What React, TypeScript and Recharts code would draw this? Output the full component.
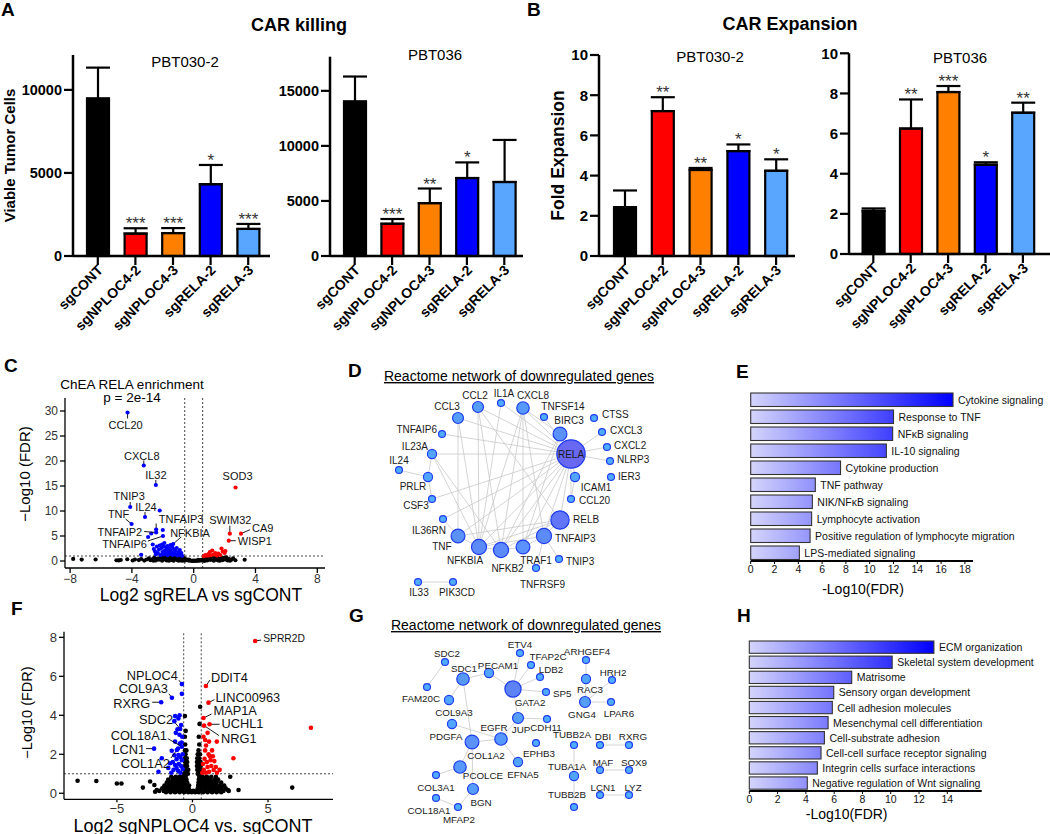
import React from 'react'
import {
  BarChart,
  Bar,
  XAxis,
  YAxis,
  ErrorBar,
  ScatterChart,
  Scatter,
  ReferenceLine,
} from 'recharts'

const FONT = '"Liberation Sans", Arial, Helvetica, sans-serif'
const BLUE = '#0000ff'
const RED = '#ff0000'

// ---------- A / B: CAR killing and CAR expansion ----------
const groups = ['sgCONT', 'sgNPLOC4-2', 'sgNPLOC4-3', 'sgRELA-2', 'sgRELA-3']
const groupColors = ['#000000', '#ff0000', '#ff8000', '#0000ff', '#58a6ff']

const killing030 = [9480, 1350, 1380, 4320, 1630]
const killing030Err = [1860, 320, 300, 1160, 300]
const killing030Sig = ['', '***', '***', '*', '***']

const killing036 = [14030, 2930, 4800, 7080, 6720]
const killing036Err = [2270, 430, 1330, 1420, 3820]
const killing036Sig = ['', '***', '**', '*', '']

const expansion030 = [2.43, 7.21, 4.28, 5.22, 4.24]
const expansion030Err = [0.83, 0.69, 0.1, 0.33, 0.57]
const expansion030Sig = ['', '**', '**', '*', '*']

const expansion036 = [2.15, 6.25, 8.07, 4.45, 7.04]
const expansion036Err = [0.12, 1.45, 0.3, 0.12, 0.5]
const expansion036Sig = ['', '**', '***', '*', '**']

// ---------- C: volcano sgRELA vs sgCONT ----------
const cBlack: [number, number][] = [
  [-7.8, 0.42], [-7.25, 0.28], [-6.35, 0.3], [-5.0, 0.15], [-4.85, 0.12], [-4.72, 0.2], [-4.3, 0.35],
  [-3.95, 0.1], [-3.8, 0.3], [-3.55, 0.18], [-3.4, 0.4], [-3.2, 0.08], [-3.05, 0.3], [-2.9, 0.55],
  [-2.8, 0.15], [-2.65, 0.38], [-2.55, 0.7], [-2.45, 0.1], [-2.35, 0.45], [-2.25, 0.25], [-2.15, 0.75],
  [-2.05, 0.05], [-1.98, 0.5], [-1.9, 0.3], [-1.82, 0.85], [-1.75, 0.12], [-1.68, 0.6], [-1.6, 0.35],
  [-1.52, 0.8], [-1.45, 0.2], [-1.38, 0.55], [-1.3, 0.05], [-1.25, 0.7], [-1.18, 0.35], [-1.1, 0.85],
  [-1.05, 0.15], [-0.98, 0.5], [-0.92, 0.3], [-0.85, 0.7], [-0.8, 0.1], [-0.74, 0.45], [-0.68, 0.25],
  [-0.62, 0.6], [-0.55, 0.12], [-0.48, 0.35], [-0.4, 0.2], [-0.33, 0.08], [-0.25, 0.15], [-0.18, 0.05],
  [-0.1, 0.02], [-0.03, 0.06], [0.05, 0.03], [0.12, 0.08], [0.2, 0.04], [0.28, 0.12], [0.35, 0.06],
  [0.42, 0.18], [0.5, 0.1], [0.56, 0.3], [0.62, 0.15], [0.68, 0.5], [0.75, 0.25], [0.82, 0.7],
  [0.88, 0.1], [0.95, 0.4], [1.02, 0.6], [1.08, 0.2], [1.15, 0.8], [1.22, 0.35], [1.3, 0.05],
  [1.36, 0.55], [1.44, 0.25], [1.5, 0.75], [1.58, 0.12], [1.65, 0.45], [1.72, 0.3], [1.8, 0.65],
  [1.88, 0.18], [1.96, 0.5], [2.05, 0.3], [2.12, 0.75], [2.2, 0.1], [2.3, 0.4], [2.42, 0.22],
  [2.55, 0.55], [2.7, 0.15], [3.3, 0.25],
  [-1.6, 0.05], [-1.2, 0.5], [-0.7, 0.05], [-0.3, 0.3], [0.3, 0.25], [0.7, 0.02], [1.25, 0.6], [1.7, 0.05],
  [2.0, 0.7], [2.35, 0.05], [-2.6, 0.05], [-2.0, 0.65], [-1.42, 0.65], [-0.95, 0.05],
]
const cBlue: [number, number][] = [
  [-3.4, 1.25], [-2.95, 4.8], [-2.75, 5.5], [-2.0, 6.2], [-2.2, 10.1], [-2.65, 3.3], [-2.58, 2.4],
  [-2.5, 1.9], [-2.45, 1.3], [-2.38, 2.9], [-2.32, 1.6], [-2.25, 2.3], [-2.2, 3.1], [-2.15, 1.2],
  [-2.08, 2.6], [-2.02, 1.8], [-1.96, 1.3], [-1.92, 2.9], [-1.86, 2.1], [-1.8, 1.5], [-1.75, 2.6],
  [-1.7, 1.15], [-1.64, 1.9], [-1.6, 2.5], [-1.55, 1.4], [-1.5, 2.2], [-1.44, 1.7], [-1.4, 2.9],
  [-1.35, 1.2], [-1.3, 2.4], [-1.26, 1.6], [-1.2, 2.0], [-1.15, 1.3], [-1.1, 2.6], [-1.05, 1.1],
  [-1.0, 1.8], [-0.95, 1.4], [-0.9, 2.2], [-0.85, 1.15], [-0.8, 1.6], [-0.75, 1.05], [-1.7, 3.0],
  [-2.05, 3.3], [-1.5, 3.2], [-1.9, 3.6],
]
const cRed: [number, number][] = [
  [0.66, 0.95], [0.75, 1.2], [0.85, 1.05], [0.95, 1.4], [1.05, 1.8], [1.12, 1.15], [1.2, 2.1],
  [1.3, 1.3], [1.4, 1.6], [1.5, 1.1], [1.6, 1.5], [1.72, 1.2], [1.8, 2.5], [1.88, 1.9], [2.0, 1.6],
  [2.05, 2.0], [1.0, 1.1],
]
const cGenes = ['CCL20', 'CXCL8', 'IL32', 'TNIP3', 'IL24', 'TNF', 'TNFAIP3', 'TNFAIP2', 'TNFAIP6', 'NFKBIA', 'SOD3', 'SWIM32', 'CA9', 'WISP1']
const cGeneFC = [-4.28, -3.23, -2.45, -4.11, -3.15, -4.02, -2.43, -2.43, -1.99, -1.33, 2.71, 2.34, 3.06, 2.27]
const cGeneFDR = [29.7, 19.1, 15.2, 10.8, 8.8, 7.4, 6.3, 5.7, 5.0, 3.4, 14.7, 5.46, 5.46, 4.06]

// ---------- F: volcano sgNPLOC4 vs sgCONT ----------
const fBlack: [number, number][] = [
  [-2.2, 0.12], [-1.9, 0.12], [-1.6, 0.12], [-1.3, 0.12], [-1.0, 0.12], [-0.7, 0.12], [-0.4, 0.12], [-0.15, 0.12],
  [0.05, 0.12], [0.3, 0.12], [0.55, 0.12], [0.85, 0.12], [1.15, 0.12], [1.45, 0.12], [1.75, 0.12], [2.05, 0.12], [2.4, 0.12],
  [-2.0, 0.25], [-1.7, 0.25], [-1.45, 0.25], [-1.2, 0.25], [-0.95, 0.25], [-0.7, 0.25], [-0.45, 0.25], [-0.25, 0.25],
  [0.35, 0.25], [0.55, 0.25], [0.8, 0.25], [1.05, 0.25], [1.3, 0.25], [1.6, 0.25], [1.9, 0.25], [2.2, 0.25],
  [-1.85, 0.4], [-1.6, 0.4], [-1.35, 0.4], [-1.1, 0.4], [-0.85, 0.4], [-0.62, 0.4], [-0.4, 0.4], [-0.22, 0.4],
  [0.38, 0.4], [0.6, 0.4], [0.82, 0.4], [1.05, 0.4], [1.3, 0.4], [1.55, 0.4], [1.8, 0.4], [2.1, 0.4],
  [-1.7, 0.55], [-1.45, 0.55], [-1.2, 0.55], [-1.0, 0.55], [-0.78, 0.55], [-0.55, 0.55], [-0.35, 0.55],
  [0.4, 0.55], [0.62, 0.55], [0.85, 0.55], [1.1, 0.55], [1.35, 0.55], [1.6, 0.55], [1.9, 0.55],
  [-1.6, 0.7], [-1.3, 0.7], [-1.05, 0.7], [-0.8, 0.7], [-0.6, 0.7], [-0.4, 0.7],
  [0.42, 0.7], [0.65, 0.7], [0.9, 0.7], [1.15, 0.7], [1.45, 0.7], [1.7, 0.7],
  [-1.4, 0.85], [-1.1, 0.85], [-0.85, 0.85], [-0.65, 0.85], [-0.45, 0.85], [0.45, 0.85], [0.68, 0.85], [0.95, 0.85], [1.25, 0.85], [1.55, 0.85],
  [-1.75, 0.05], [-1.45, 0.05], [-1.15, 0.05], [-0.85, 0.05], [-0.55, 0.05], [-0.28, 0.05], [-0.05, 0.05],
  [0.18, 0.05], [0.42, 0.05], [0.7, 0.05], [1.0, 0.05], [1.3, 0.05], [1.6, 0.05], [1.9, 0.05],
  [-1.85, 0.32], [-1.55, 0.32], [-1.3, 0.32], [-1.05, 0.32], [-0.8, 0.32], [-0.55, 0.32], [-0.35, 0.32],
  [0.45, 0.32], [0.68, 0.32], [0.92, 0.32], [1.18, 0.32], [1.45, 0.32], [1.72, 0.32],
  [-1.5, 0.48], [-1.25, 0.48], [-0.98, 0.48], [-0.72, 0.48], [-0.5, 0.48], [0.5, 0.48], [0.72, 0.48], [0.95, 0.48], [1.2, 0.48], [1.45, 0.48],
  [-1.35, 0.62], [-1.12, 0.62], [-0.9, 0.62], [-0.7, 0.62], [-0.48, 0.62], [0.52, 0.62], [0.75, 0.62], [1.0, 0.62], [1.25, 0.62],
  [-1.2, 0.78], [-0.95, 0.78], [-0.72, 0.78], [-0.52, 0.78], [0.55, 0.78], [0.8, 0.78], [1.05, 0.78],
  [-0.55, 1.0], [-0.42, 1.0], [-0.3, 1.0], [0.35, 1.0], [0.48, 1.0], [0.58, 1.0],
  [-0.52, 1.2], [-0.38, 1.2], [-0.28, 1.2], [0.32, 1.2], [0.45, 1.2], [0.56, 1.2],
  [-0.5, 1.4], [-0.36, 1.4], [0.3, 1.4], [0.44, 1.4], [0.55, 1.4],
  [-0.48, 1.6], [-0.35, 1.6], [0.3, 1.6], [0.42, 1.6], [0.54, 1.6],
  [-0.5, 1.8], [-0.38, 1.8], [0.32, 1.8], [0.45, 1.8],
  [-0.46, 2.0], [0.35, 2.0], [0.5, 2.0], [-0.5, 2.2], [-0.4, 2.2], [0.4, 2.2],
  [-0.48, 2.5], [0.45, 2.5], [-0.5, 2.9], [0.42, 2.9], [-0.45, 3.2], [0.47, 3.56], [-0.5, 3.96], [0.51, 4.44],
  [-7.6, 0.64], [-6.36, 0.63], [-5.0, 0.5], [-4.7, 0.5], [-3.28, 0.29], [-2.52, 0.42], [-2.47, 0.08],
  [-2.8, 0.6], [-2.36, 0.17], [3.05, 0.17], [6.6, 0.29], [2.34, 0.17], [2.5, 0.85], [1.95, 0.34],
]
const fBlue: [number, number][] = [
  [-1.15, 3.96], [-0.93, 3.84], [-0.99, 3.28], [-0.86, 3.0], [-1.1, 3.1], [-0.75, 3.5], [-0.7, 5.1],
  [-1.15, 2.65], [-0.84, 2.55], [-0.95, 2.3], [-0.72, 2.6], [-1.37, 2.18], [-1.2, 1.95], [-0.93, 1.96],
  [-0.8, 1.85], [-1.05, 1.75], [-0.7, 1.7], [-1.3, 1.6], [-1.48, 1.54], [-1.15, 1.45], [-0.9, 1.5],
  [-0.75, 1.4], [-1.05, 1.3], [-1.25, 1.2], [-0.65, 1.25], [-0.95, 1.15], [-0.8, 1.05], [-2.25, 1.1],
  [-2.03, 1.8], [-1.6, 1.3], [-1.4, 1.05], [-0.65, 2.0], [-0.68, 2.9], [-0.85, 4.0], [-1.2, 3.7],
]
const fRed: [number, number][] = [
  [0.84, 2.73], [1.1, 2.65], [1.61, 2.65], [0.84, 2.2], [1.07, 2.0], [1.3, 2.2], [0.8, 1.77], [0.95, 1.6],
  [1.2, 1.7], [1.45, 1.65], [1.0, 1.35], [1.25, 1.4], [1.4, 1.19], [0.75, 1.2], [0.7, 1.5], [1.62, 1.05],
  [1.1, 1.1], [0.9, 1.05], [2.71, 1.8], [0.73, 2.9], [1.0, 3.1], [7.84, 3.36], [1.35, 1.9], [0.9, 2.45],
  [1.55, 1.35], [0.65, 1.05], [1.8, 1.2], [1.15, 1.9],
]
const fGenes = ['SPRR2D', 'NPLOC4', 'COL9A3', 'RXRG', 'DDIT4', 'LINC00963', 'MAP1A', 'UCHL1', 'NRG1', 'SDC2', 'COL18A1', 'LCN1', 'COL1A2']
const fGeneFC = [4.15, -0.7, -1.36, -2.07, 0.89, 1.06, 0.73, 1.13, 0.77, -0.81, -0.7, -2.54, -1.03]
const fGeneFDR = [7.81, 5.6, 4.9, 4.67, 5.5, 4.65, 3.86, 3.54, 3.47, 3.3, 2.39, 2.29, 2.22]

// ---------- D: network of downregulated genes (sgRELA) ----------
const dNodes = ['CCL2', 'IL1A', 'CXCL8', 'CCL3', 'TNFSF14', 'CTSS', 'BIRC3', 'CXCL3', 'TNFAIP6', 'RELA', 'CXCL2', 'IL23A', 'NLRP3', 'IL24', 'IER3', 'ICAM1', 'PRLR', 'CCL20', 'CSF3', 'RELB', 'IL36RN', 'TNFAIP3', 'TNF', 'NFKBIA', 'NFKB2', 'TRAF1', 'TNIP3', 'TNFRSF9', 'IL33', 'PIK3CD']
const dNodeX = [98, 121, 143, 78, 164, 214, 180, 222, 62, 191, 227, 52, 230, 19, 231, 195, 48, 191, 52, 180, 63, 164, 78, 99, 121, 143, 179, 156, 38, 73]
const dNodeY = [22, 18, 23, 33, 32, 33, 49, 47, 49, 69, 62, 69, 76, 85, 92, 92, 92, 114, 114, 135, 134, 151, 151, 162, 165, 162, 174, 183, 197, 197]
const dDegree = [3, 1, 4, 3, 1, 1, 5, 1, 1, 22, 1, 2, 1, 1, 1, 2, 2, 1, 1, 9, 1, 6, 5, 6, 6, 5, 1, 1, 1, 1]
const dEdges: [string, string][] = [
  ['RELA', 'IL23A'], ['RELA', 'CSF3'], ['RELA', 'CCL2'], ['RELA', 'CCL3'], ['RELA', 'CXCL8'], ['RELA', 'BIRC3'],
  ['RELA', 'CXCL3'], ['RELA', 'CXCL2'], ['RELA', 'NLRP3'], ['RELA', 'ICAM1'], ['RELA', 'CCL20'], ['RELA', 'RELB'],
  ['RELA', 'TNFAIP3'], ['RELA', 'TRAF1'], ['RELA', 'NFKB2'], ['RELA', 'NFKBIA'], ['RELA', 'TNF'], ['RELA', 'IL36RN'],
  ['RELA', 'TNFSF14'], ['RELA', 'IL1A'], ['RELA', 'TNFAIP6'], ['NFKBIA', 'CCL2'], ['NFKBIA', 'CXCL8'], ['NFKBIA', 'IL1A'],
  ['NFKBIA', 'IL23A'], ['NFKBIA', 'CCL3'], ['NFKB2', 'CXCL8'], ['NFKB2', 'CCL2'], ['NFKB2', 'BIRC3'], ['TRAF1', 'CXCL8'],
  ['TRAF1', 'BIRC3'], ['TNF', 'CCL3'], ['TNF', 'IL36RN'], ['TNF', 'NFKBIA'], ['NFKBIA', 'NFKB2'], ['NFKB2', 'TRAF1'],
  ['TRAF1', 'TNFAIP3'], ['TNFAIP3', 'RELB'], ['TNFAIP3', 'TNIP3'], ['TNFAIP3', 'TNFRSF9'], ['TNFAIP3', 'NFKBIA'],
  ['RELB', 'NFKB2'], ['RELB', 'NFKBIA'], ['ICAM1', 'CCL20'], ['IL24', 'PRLR'], ['PRLR', 'IL23A'], ['CSF3', 'PRLR'],
  ['IL33', 'PIK3CD'], ['BIRC3', 'CXCL8'], ['RELB', 'CCL2'], ['TNFAIP3', 'CXCL8'], ['TNF', 'RELB'], ['IL23A', 'NFKB2'],
]

// ---------- G: network of downregulated genes (sgNPLOC4) ----------
const gNodes = ['ETV4', 'SDC2', 'TFAP2C', 'ARHGEF4', 'PECAM1', 'SDC1', 'LDB2', 'RAC3', 'HRH2', 'FAM20C', 'GATA2', 'SP5', 'COL9A3', 'GNG4', 'LPAR6', 'JUP', 'CDH11', 'PDGFA', 'EGFR', 'COL1A2', 'TUBB2A', 'DBI', 'RXRG', 'EPHB3', 'EFNA5', 'PCOLCE', 'TUBA1A', 'MAF', 'SOX9', 'COL3A1', 'BGN', 'LCN1', 'LYZ', 'COL18A1', 'MFAP2', 'TUBB2B']
const gNodeX = [140, 65, 151, 206, 109, 83, 160, 206, 232, 47, 133, 166, 69, 205, 231, 138, 167, 72, 121, 92, 194, 220, 249, 156, 138, 80, 194, 220, 249, 56, 93, 220, 249, 56, 78, 194]
const gNodeY = [13, 22, 25, 20, 33, 39, 37, 39, 40, 47, 49, 52, 60, 62, 62, 78, 79, 84, 99, 102, 105, 105, 105, 103, 122, 127, 136, 130, 130, 135, 149, 155, 155, 158, 167, 167]
const gDegree = [1, 1, 1, 1, 2, 4, 1, 2, 1, 1, 7, 1, 2, 3, 1, 3, 1, 2, 4, 5, 1, 1, 1, 1, 2, 4, 2, 1, 1, 1, 3, 1, 1, 1, 1, 1]
const gEdges: [string, string][] = [
  ['SDC2', 'FAM20C'], ['SDC1', 'COL9A3'], ['SDC1', 'PECAM1'], ['GATA2', 'PECAM1'], ['GATA2', 'ETV4'], ['GATA2', 'TFAP2C'],
  ['GATA2', 'LDB2'], ['GATA2', 'SP5'], ['GATA2', 'JUP'], ['JUP', 'CDH11'], ['JUP', 'EGFR'], ['EGFR', 'PDGFA'],
  ['EGFR', 'COL1A2'], ['EGFR', 'EFNA5'], ['COL1A2', 'SDC1'], ['COL1A2', 'PCOLCE'], ['COL1A2', 'BGN'], ['PCOLCE', 'COL3A1'],
  ['BGN', 'MFAP2'], ['COL18A1', 'MFAP2'], ['ARHGEF4', 'RAC3'], ['RAC3', 'GNG4'], ['GNG4', 'HRH2'], ['GNG4', 'LPAR6'],
  ['TUBB2A', 'TUBA1A'], ['TUBA1A', 'TUBB2B'], ['DBI', 'RXRG'], ['MAF', 'SOX9'], ['LCN1', 'LYZ'],
]

// ---------- E / H: enrichment ----------
const eTerms = ['Cytokine signaling', 'Response to TNF', 'NFκB signaling', 'IL-10 signaling', 'Cytokine production', 'TNF pathway', 'NIK/NFκB signaling', 'Lymphocyte activation', 'Positive regulation of lymphocyte migration', 'LPS-mediated signaling']
const eValues = [17.0, 12.0, 11.93, 11.4, 7.55, 5.43, 5.18, 5.12, 4.99, 4.09]
const eTicks = [0, 2, 4, 6, 8, 10, 12, 14, 16, 18]

const hTerms = ['ECM organization', 'Skeletal system development', 'Matrisome', 'Sensory organ development', 'Cell adhesion molecules', 'Mesenchymal cell differentiation', 'Cell-substrate adhesion', 'Cell-cell surface receptor signaling', 'Integrin cells surface interactions', 'Negative regulation of Wnt signaling']
const hValues = [13.05, 10.1, 7.24, 5.97, 5.87, 5.57, 5.31, 5.07, 4.81, 4.1]
const hTicks = [0, 2, 4, 6, 8, 10, 12, 14]

// label placement (layout only): [dx, dy, anchor, lineDx, lineDy]
type LabelPos = [number, number, 'start' | 'middle' | 'end', number, number]
const cLabelPos: Record<string, LabelPos> = {
  CCL20: [-2, 12, 'middle', 0, 6], CXCL8: [-2, -10, 'middle', 0, -5], IL32: [0, -10, 'middle', 0, -5],
  TNIP3: [-1, -11, 'middle', 0, -5], IL24: [1, -10, 'middle', 0, -5], TNF: [-13, -10, 'middle', -6, -5],
  TNFAIP3: [25, -11, 'middle', 0, -6], TNFAIP2: [-14, -1, 'end', -12, -1], TNFAIP6: [-16, 7.5, 'end', -15, 5],
  NFKBIA: [-3, -11.5, 'start', 8, -7], SOD3: [2, -12, 'middle', 0, 0], SWIM32: [0.5, -14, 'middle', 0, -8],
  CA9: [11, -6, 'start', 9, -4], WISP1: [9, 0, 'start', 7, 0],
}
const fLabelPos: Record<string, LabelPos> = {
  SPRR2D: [8, -2.5, 'start', 6, -1], NPLOC4: [-4, -9, 'end', -3, -4], COL9A3: [-4, -9.5, 'end', -3, -4],
  RXRG: [-11, 1.5, 'end', -9, 0], DDIT4: [5, -9, 'start', 4, -6], LINC00963: [7, -5, 'start', 6, -3],
  MAP1A: [10, -7.5, 'start', 8, -4], UCHL1: [12, -1, 'start', 10, 0], NRG1: [17, 12.5, 'start', 15, 10],
  SDC2: [-7, -9, 'end', -5, -6], COL18A1: [-15, -11.5, 'end', -14, -8], LCN1: [-9, 0.5, 'end', -8, 0],
  COL1A2: [-7, 14, 'end', -6, 8],
}
const dLabelPos: Record<string, LabelPos> = {
  CCL2: [-3, -12, 'middle', 0, 0], IL1A: [3, -10, 'middle', 0, 0], CXCL8: [10, -13, 'middle', 0, 0],
  CCL3: [-11, -12, 'middle', 0, 0], TNFSF14: [19, -11, 'middle', 0, 0], CTSS: [8, -4, 'start', 0, 0],
  BIRC3: [9, -14, 'middle', 0, 0], CXCL3: [8, -2, 'start', 0, 0], TNFAIP6: [-5, -5, 'end', 0, 0],
  RELA: [0, 0, 'middle', 0, 0], CXCL2: [7, -2, 'start', 0, 0], IL23A: [-4, -8, 'end', 0, 0],
  NLRP3: [7, -2, 'start', 0, 0], IL24: [0, -10, 'middle', 0, 0], IER3: [7, -1, 'start', 0, 0],
  ICAM1: [21, 10, 'middle', 0, 0], PRLR: [-15, 9, 'middle', 0, 0], CCL20: [8, 1, 'start', 0, 0],
  CSF3: [-16, 6, 'middle', 0, 0], RELB: [13, -1, 'start', 0, 0], IL36RN: [-14, 11, 'middle', 0, 0],
  TNFAIP3: [11, 2, 'start', 0, 0], TNF: [-16, 10, 'middle', 0, 0], NFKBIA: [-14, 13, 'middle', 0, 0],
  NFKB2: [6.5, 18, 'middle', 0, 0], TRAF1: [13, 13, 'middle', 0, 0], TNIP3: [7, 2, 'start', 0, 0],
  TNFRSF9: [6.5, 16, 'middle', 0, 0], IL33: [1, 10, 'middle', 0, 0], PIK3CD: [4, 10, 'middle', 0, 0],
}
const gLabelPos: Record<string, LabelPos> = {
  ETV4: [0, -9, 'middle', 0, 0], SDC2: [2, -9, 'middle', 0, 0], TFAP2C: [17, -9, 'middle', 0, 0],
  ARHGEF4: [1, -9, 'middle', 0, 0], PECAM1: [9, -8, 'middle', 0, 0], SDC1: [1, -11, 'middle', 0, 0],
  LDB2: [11, -8, 'middle', 0, 0], RAC3: [4, 10, 'middle', 0, 0], HRH2: [1, -8, 'middle', 0, 0],
  FAM20C: [-6, 11, 'middle', 0, 0], GATA2: [17, 13, 'middle', 0, 0], SP5: [7, 1, 'start', 0, 0],
  COL9A3: [5, 12, 'middle', 0, 0], GNG4: [-3, 12, 'middle', 0, 0], LPAR6: [8, 11, 'middle', 0, 0],
  JUP: [3, 11, 'middle', 0, 0], CDH11: [-1, 8, 'middle', 0, 0], PDGFA: [-6, 12, 'middle', 0, 0],
  EGFR: [-7, -12, 'middle', 0, 0], COL1A2: [14, 13, 'middle', 0, 0], TUBB2A: [-2, -11, 'middle', 0, 0],
  DBI: [3, -9, 'middle', 0, 0], RXRG: [4, -9, 'middle', 0, 0], EPHB3: [3, 10, 'middle', 0, 0],
  EFNA5: [5, 12, 'middle', 0, 0], PCOLCE: [23, 8, 'middle', 0, 0], TUBA1A: [-7, -10, 'middle', 0, 0],
  MAF: [3, -8, 'middle', 0, 0], SOX9: [5, -8, 'middle', 0, 0], COL3A1: [0, 12, 'middle', 0, 0],
  BGN: [8, 13, 'middle', 0, 0], LCN1: [3, -8, 'middle', 0, 0], LYZ: [4, -8, 'middle', 0, 0],
  COL18A1: [-7, 12, 'middle', 0, 0], MFAP2: [1, 12, 'middle', 0, 0], TUBB2B: [-7, -13, 'middle', 0, 0],
}

const toPts = (pts: [number, number][]) => pts.map(([x, y]) => ({ x, y }))

const rotatedLabel = (text: string, x: number, size: number, bold: boolean, cyAbs?: number) => (props: any) => {
  const vb = props.viewBox || {}
  const cy = cyAbs != null ? cyAbs : vb.y + vb.height / 2
  return (
    <text
      x={x}
      y={cy}
      transform={`rotate(-90 ${x} ${cy})`}
      textAnchor="middle"
      dominantBaseline="central"
      fontSize={size}
      fontWeight={bold ? 700 : 400}
      fontFamily={FONT}
      fill="#000"
    >
      {text}
    </text>
  )
}

const flatLabel = (text: string, x: number, y: number, size: number) => () => (
  <text x={x} y={y} textAnchor="middle" dominantBaseline="central" fontSize={size} fontFamily={FONT} fill="#000">
    {text}
  </text>
)

const RotTick = (t: any) => {
  const ax = t.x + 6
  const ay = t.y + 4
  return (
    <text
      x={ax}
      y={ay}
      transform={`rotate(-45 ${ax} ${ay})`}
      textAnchor="end"
      fontSize={14}
      fontWeight={700}
      fontFamily={FONT}
      fill="#000"
    >
      {t.payload.value}
    </text>
  )
}

const groupBarShape = (p: any) => {
  const d = p.payload
  const errPx = d.v > 0 ? (d.err[1] * p.height) / d.v : 0
  return (
    <g>
      <rect x={p.x} y={p.y} width={p.width} height={p.height} fill={groupColors[d.i]} stroke="#000" strokeWidth={2.2} />
      {d.sig ? (
        <text x={p.x + p.width / 2} y={p.y - errPx + 1} textAnchor="middle" fontSize={17} fill="#333" fontFamily={FONT}>
          {d.sig}
        </text>
      ) : null}
    </g>
  )
}

function GroupBars(p: any) {
  const rows = groups.map((g, i) => ({ name: g, i, v: p.values[i], err: [0, p.errors[i]], sig: p.stars[i] }))
  return (
    <div style={{ position: 'absolute', left: p.left, top: 0 }}>
      <BarChart
        width={p.width}
        height={340}
        data={rows}
        margin={{ top: p.plotTop, right: p.width - p.plotRight, left: 0, bottom: 0 }}
      >
        <XAxis
          dataKey="name"
          interval={0}
          height={340 - p.plotBottom}
          padding={{ left: p.padLeft, right: p.padRight }}
          axisLine={{ stroke: '#000', strokeWidth: 2.5 }}
          tickLine={{ stroke: '#000', strokeWidth: 2.2 }}
          tickSize={9}
          tick={<RotTick />}
        />
        <YAxis
          width={p.plotLeft}
          domain={p.domain}
          ticks={p.ticks}
          axisLine={{ stroke: '#000', strokeWidth: 2.5 }}
          tickLine={{ stroke: '#000', strokeWidth: 2.2 }}
          tickSize={9}
          tick={{ fontSize: p.tickFont, fontWeight: 700, fill: '#000', fontFamily: FONT }}
          label={p.yLabel ? { content: rotatedLabel(p.yLabel, p.yLabelX, p.yLabelSize, true) } : undefined}
        />
        <Bar dataKey="v" barSize={22} shape={groupBarShape} isAnimationActive={false}>
          <ErrorBar dataKey="err" direction="y" width={12} stroke="#000" strokeWidth={2.2} />
        </Bar>
      </BarChart>
    </div>
  )
}

const dotShape = (color: string, r: number) => (p: any) => <circle cx={p.cx} cy={p.cy} r={r} fill={color} />

const labeledShape = (layout: Record<string, LabelPos>, font: number, r: number) => (p: any) => {
  const d = p.payload
  const [tx, ty, anchor, lx, ly] = layout[d.name]
  const size = d.name === 'SPRR2D' ? font - 2.5 : font
  return (
    <g>
      {lx || ly ? <line x1={p.cx} y1={p.cy} x2={p.cx + lx} y2={p.cy + ly} stroke="#000" strokeWidth={0.9} /> : null}
      <circle cx={p.cx} cy={p.cy} r={r} fill={d.x < 0 ? BLUE : RED} />
      <text x={p.cx + tx} y={p.cy + ty} textAnchor={anchor} dominantBaseline="central" fontSize={size} fontFamily={FONT} fill="#111">
        {d.name}
      </text>
    </g>
  )
}

const minusFmt = (v: number) => (v < 0 ? `\u2212${-v}` : `${v}`)

function Volcano(p: any) {
  const genes = p.genes.map((g: string, i: number) => ({ name: g, x: p.fc[i], y: p.fdr[i] }))
  const axisStyle = { stroke: '#000', strokeWidth: 1.3 }
  return (
    <div style={{ position: 'absolute', left: p.left, top: p.top }}>
      <ScatterChart
        width={p.width}
        height={p.height}
        margin={{ top: p.plotTop, right: p.width - p.plotRight, left: 0, bottom: 0 }}
      >
        <XAxis
          type="number"
          dataKey="x"
          domain={p.xDomain}
          ticks={p.xTicks}
          tickFormatter={minusFmt}
          height={p.height - p.plotBottom}
          axisLine={axisStyle}
          tickLine={axisStyle}
          tickSize={p.xTickSize}
          tickMargin={1}
          tick={{ fontSize: p.tickFont, fill: '#333', fontFamily: FONT }}
          label={{ content: flatLabel(p.xLabel, p.xLabelX, p.xLabelY, p.xLabelSize) }}
        />
        <YAxis
          type="number"
          dataKey="y"
          domain={p.yDomain}
          ticks={p.yTicks}
          width={p.plotLeft}
          axisLine={axisStyle}
          tickLine={axisStyle}
          tickSize={5}
          tick={{ fontSize: p.tickFont, fill: '#333', fontFamily: FONT }}
          label={{ content: rotatedLabel('\u2212Log10 (FDR)', p.yLabelX, p.yLabelSize, false, p.yLabelCy) }}
        />
        <ReferenceLine x={-0.58} stroke="#444" strokeDasharray="2 2" strokeWidth={1} />
        <ReferenceLine x={0.58} stroke="#444" strokeDasharray="2 2" strokeWidth={1} />
        <ReferenceLine y={1} stroke="#444" strokeDasharray="2 2" strokeWidth={1} />
        <Scatter data={toPts(p.black)} shape={dotShape('#000', p.dotR)} isAnimationActive={false} />
        <Scatter data={toPts(p.blue)} shape={dotShape(BLUE, p.dotR)} isAnimationActive={false} />
        <Scatter data={toPts(p.red)} shape={dotShape(RED, p.dotR)} isAnimationActive={false} />
        <Scatter data={genes} shape={labeledShape(p.labelPos, p.labelFont, p.dotR)} isAnimationActive={false} />
      </ScatterChart>
    </div>
  )
}

const mix = (a: number[], b: number[], t: number) =>
  `rgb(${a.map((v, i) => Math.round(v + (b[i] - v) * t)).join(',')})`

const nodeShape = (layout: Record<string, LabelPos>, font: number) => (p: any) => {
  const d = p.payload
  const r = Math.sqrt(12 + 9 * (d.deg - 1))
  const t = Math.min(1, (d.deg - 1) / 10)
  const fill = mix([80, 172, 255], [104, 104, 242], t)
  const [tx, ty, anchor] = layout[d.name]
  return (
    <g>
      <circle cx={p.cx} cy={p.cy} r={r} fill={fill} stroke="#1f3cf0" strokeWidth={1.2} />
      <text x={p.cx + tx} y={p.cy + ty} textAnchor={anchor} dominantBaseline="central" fontSize={font} fontFamily={FONT} fill="#1a1a1a">
        {d.name}
      </text>
    </g>
  )
}

function Network(p: any) {
  const nodes = p.names.map((n: string, i: number) => ({ name: n, x: p.xs[i], y: p.ys[i], deg: p.deg[i] }))
  const at = (n: string) => nodes.find((d: any) => d.name === n)
  const padR = 50
  const padB = 16
  return (
    <div style={{ position: 'absolute', left: p.left, top: p.top }}>
      <ScatterChart
        width={p.width + padR}
        height={p.height + padB}
        margin={{ top: 0, right: padR, left: 0, bottom: padB }}
      >
        <XAxis type="number" dataKey="x" domain={[0, p.width]} hide />
        <YAxis type="number" dataKey="y" domain={[0, p.height]} reversed hide />
        {p.edges.map(([a, b]: [string, string], i: number) => {
          const s = at(a)
          const e = at(b)
          return (
            <ReferenceLine
              key={i}
              segment={[{ x: s.x, y: s.y }, { x: e.x, y: e.y }]}
              stroke="#c9c9c9"
              strokeWidth={0.8}
              ifOverflow="visible"
            />
          )
        })}
        <Scatter data={nodes} shape={nodeShape(p.labelPos, p.font)} isAnimationActive={false} />
      </ScatterChart>
    </div>
  )
}

const LIGHT = [212, 212, 251]
const DEEP = [0, 0, 255]

function TermBars(p: any) {
  const rows = p.terms.map((t: string, i: number) => ({ name: t, i, v: p.values[i] }))
  const vmax = Math.max(...p.values)
  const shape = (b: any) => {
    const d = b.payload
    const id = `${p.id}-grad-${d.i}`
    return (
      <g>
        <defs>
          <linearGradient id={id} x1="0" x2="1" y1="0" y2="0">
            <stop offset="0" stopColor={mix(LIGHT, LIGHT, 0)} />
            <stop offset="1" stopColor={mix(LIGHT, DEEP, d.v / vmax)} />
          </linearGradient>
        </defs>
        <rect x={b.x} y={b.y} width={b.width} height={b.height} fill={`url(#${id})`} stroke="#333" strokeWidth={1.1} />
        <text
          x={b.x + b.width + 5}
          y={b.y + b.height / 2}
          dominantBaseline="central"
          fontSize={10.5}
          fontFamily={FONT}
          fill="#111"
        >
          {d.name}
        </text>
      </g>
    )
  }
  return (
    <div style={{ position: 'absolute', left: p.left, top: p.top }}>
      <BarChart
        layout="vertical"
        width={p.width}
        height={p.height}
        data={rows}
        margin={{ top: p.plotTop, right: p.width - p.plotRight, left: p.plotLeft, bottom: 0 }}
      >
        <XAxis
          type="number"
          domain={[0, p.max]}
          ticks={p.ticks}
          height={p.height - p.plotBottom}
          axisLine={{ stroke: '#000', strokeWidth: 2 }}
          tickLine={{ stroke: '#000', strokeWidth: 1 }}
          tickSize={3}
          tick={{ fontSize: 10.5, fill: '#111', fontFamily: FONT }}
          label={{ content: flatLabel('-Log10(FDR)', p.xLabelX, p.xLabelY, 14) }}
        />
        <YAxis type="category" dataKey="name" width={0} tick={false} tickLine={false} axisLine={{ stroke: '#000', strokeWidth: 2 }} />
        <Bar dataKey="v" barSize={p.barSize} shape={shape} isAnimationActive={false} />
      </BarChart>
    </div>
  )
}

const panelLetters: [string, number, number][] = [
  ['A', 1, 16], ['B', 527, 16], ['C', 4, 372], ['D', 348, 377],
  ['E', 736, 378], ['F', 11, 615], ['G', 349, 622], ['H', 737, 622],
]

function Annotations() {
  const t = (x: number, y: number, s: number, w: number, txt: string, extra: any = {}) => (
    <text x={x} y={y} fontSize={s} fontWeight={w} fontFamily={FONT} fill="#000" textAnchor="middle" {...extra}>
      {txt}
    </text>
  )
  return (
    <svg width={1050} height={834} style={{ position: 'absolute', left: 0, top: 0, pointerEvents: 'none' }}>
      {panelLetters.map(([l, x, y]) => (
        <text key={l} x={x} y={y} fontSize={19} fontWeight={700} fontFamily={FONT} fill="#000">
          {l}
        </text>
      ))}
      {t(299, 31, 18, 700, 'CAR killing')}
      {t(790, 30, 18, 700, 'CAR Expansion')}
      {t(185, 67, 15, 400, 'PBT030-2')}
      {t(435, 60, 15, 400, 'PBT036')}
      {t(710, 62, 15, 400, 'PBT030-2')}
      {t(960, 63, 15, 400, 'PBT036')}
      {t(132, 389, 13.5, 400, 'ChEA RELA enrichment')}
      {t(132, 402, 13.5, 400, 'p = 2e-14')}
      {t(519, 381, 14, 400, 'Reactome network of downregulated genes', { style: { textDecoration: 'underline' } })}
      {t(526, 630, 14, 400, 'Reactome network of downregulated genes', { style: { textDecoration: 'underline' } })}
    </svg>
  )
}

export default function App() {
  return (
    <div style={{ position: 'absolute', left: 0, top: 0, width: 1050, height: 834, background: '#fff', overflow: 'hidden' }}>
      <GroupBars
        left={0} width={275} plotLeft={73} plotRight={270} plotTop={55} plotBottom={256} padLeft={6} padRight={3}
        values={killing030} errors={killing030Err} stars={killing030Sig} domain={[0, 12100]} ticks={[0, 5000, 10000]}
        tickFont={14.5} yLabel="Viable Tumor Cells" yLabelX={9} yLabelSize={15}
      />
      <GroupBars
        left={260} width={270} plotLeft={70} plotRight={263} plotTop={56.7} plotBottom={256} padLeft={6} padRight={0}
        values={killing036} errors={killing036Err} stars={killing036Sig} domain={[0, 18100]} ticks={[0, 5000, 10000, 15000]}
        tickFont={14.5}
      />
      <GroupBars
        left={520} width={280} plotLeft={79} plotRight={275} plotTop={55} plotBottom={256} padLeft={7} padRight={0}
        values={expansion030} errors={expansion030Err} stars={expansion030Sig} domain={[0, 10]} ticks={[0, 2, 4, 6, 8, 10]}
        tickFont={15} yLabel="Fold Expansion" yLabelX={37.5} yLabelSize={17.5}
      />
      <GroupBars
        left={780} width={270} plotLeft={69} plotRight={270} plotTop={53.3} plotBottom={254} padLeft={5.6} padRight={8.4}
        values={expansion036} errors={expansion036Err} stars={expansion036Sig} domain={[0, 10]} ticks={[0, 2, 4, 6, 8, 10]}
        tickFont={15}
      />
      <Volcano
        left={0} top={330} width={335} height={282} plotLeft={65} plotRight={325} plotTop={68} plotBottom={238}
        xDomain={[-8.33, 8.5]} yDomain={[-1.4, 32.6]} xTicks={[-8, -4, 0, 4, 8]} yTicks={[0, 5, 10, 15, 20, 25, 30]}
        black={cBlack} blue={cBlue} red={cRed} genes={cGenes} fc={cGeneFC} fdr={cGeneFDR} labelPos={cLabelPos}
        labelFont={11} tickFont={12} dotR={2.1} xTickSize={5}
        xLabel="Log2 sgRELA vs sgCONT" xLabelX={201} xLabelY={265} xLabelSize={17.5}
        yLabelX={24} yLabelCy={144} yLabelSize={15}
      />
      <Network left={380} top={385} width={250} height={210} names={dNodes} xs={dNodeX} ys={dNodeY} deg={dDegree} edges={dEdges} labelPos={dLabelPos} font={10} />
      <TermBars
        id="e" left={710} top={380} width={340} height={226} plotLeft={40.7} plotTop={11} plotBottom={181} plotRight={263}
        max={18.68} ticks={eTicks} terms={eTerms} values={eValues} barSize={13.5} xLabelX={153} xLabelY={209}
      />
      <Volcano
        left={0} top={625} width={340} height={209} plotLeft={64} plotRight={333} plotTop={6.7} plotBottom={174.3}
        xDomain={[-8.5, 9.3]} yDomain={[-0.31, 8.29]} xTicks={[-5, 0, 5]} yTicks={[0, 2, 4, 6, 8]}
        black={fBlack} blue={fBlue} red={fRed} genes={fGenes} fc={fGeneFC} fdr={fGeneFDR} labelPos={fLabelPos}
        labelFont={12.8} tickFont={13} dotR={2.3} xTickSize={3}
        xLabel="Log2 sgNPLOC4 vs. sgCONT" xLabelX={193} xLabelY={200.5} xLabelSize={18}
        yLabelX={27} yLabelCy={87.5} yLabelSize={14.5}
      />
      <Network left={380} top={640} width={270} height={190} names={gNodes} xs={gNodeX} ys={gNodeY} deg={gDegree} edges={gEdges} labelPos={gLabelPos} font={9.8} />
      <TermBars
        id="h" left={710} top={630} width={340} height={204} plotLeft={39.3} plotTop={10} plotBottom={161} plotRight={271.7}
        max={16.43} ticks={hTicks} terms={hTerms} values={hValues} barSize={12.3} xLabelX={136.7} xLabelY={184}
      />
      <Annotations />
    </div>
  )
}
